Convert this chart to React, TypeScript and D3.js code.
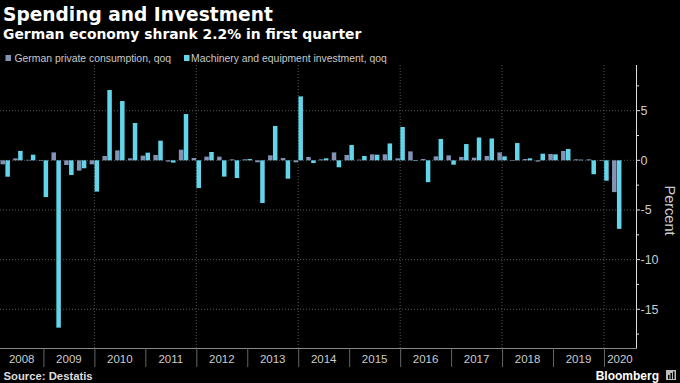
import React from "react";
import * as d3 from "d3";

const title = "Spending and Investment";
const subtitle = "German economy shrank 2.2% in first quarter";
const seriesNames = ["German private consumption, qoq", "Machinery and equipment investment, qoq"];
const years = [2008, 2009, 2010, 2011, 2012, 2013, 2014, 2015, 2016, 2017, 2018, 2019, 2020];
const consumption = [
  -0.4, 0.2, 0.05, -0.05, 0.8, -0.47, -1.04, -0.4, 0.44, 1.0, 0.2, 0.47, 0.54, -0.13, 1.07, 0.23,
  0.37, 0.37, 0.1, 0.1, -0.2, 0.5, 0.23, -0.2, 0.34, 0.1, 0.8, 0.54, 0.07, 0.6, 0.6, 0.2,
  0.9, 0.13, 0.4, 0.5, 0.34, 0.27, 0.44, 0.8, 0.03, 0.13, -0.13, 0.64, 0.94, 0.1, 0.1, -0.03,
  -3.2,
];
const investment = [
  -1.65, 0.95, 0.57, -3.7, -16.85, -1.48, -0.8, -3.15, 7.08, 5.97, 3.76, 0.77, 1.98, -0.23, 4.66, -2.79,
  0.84, -1.64, -1.78, 0.13, -4.3, 3.46, -1.85, 6.44, -0.27, 0.2, -0.7, 1.54, 0.44, 0.57, 1.7, 3.36,
  0.03, -2.2, 2.15, -0.44, 1.64, 2.3, 2.2, 0.4, 1.74, 0.2, 0.67, 0.6, 1.14, 0.07, -1.4, -2.05,
  -6.9,
];
const majorTicks = [5, 0, -5, -10, -15];
const minorTicks = [7.5, 2.5, -2.5, -7.5, -12.5, -17.5];
const gridYears = [2010, 2012, 2014, 2016, 2018, 2020];
const source = "Source: Destatis";

const colors = ["#8393b4", "#62d5ea"];

export default function App() {
  const W = 680, H = 383;
  const plotL = 0, plotR = 636, plotT = 65, plotB = 348;
  const x = d3.scaleLinear().domain([2008.148, 2020.628]).range([plotL, plotR]);
  const y = d3.scaleLinear().domain([-18.9, 9.6]).range([plotB, plotT]);
  const sub = d3.scaleBand<string>().domain(["c", "i"]).range([-4.7, 4.7]).paddingInner(0.08);
  const quarterX = (i: number) => x(years[0] + Math.floor(i / 4) + ((i % 4) + 1) / 4);
  const font = "'Liberation Sans', Arial, sans-serif";
  const bar = (v: number, i: number, key: string, color: string) => {
    const cx = quarterX(i);
    const y0 = y(0), y1 = y(v);
    return (
      <rect key={key + i} x={cx + (sub(key) as number)} width={sub.bandwidth()}
        y={Math.min(y0, y1)} height={Math.max(0.6, Math.abs(y1 - y0))} fill={color} />
    );
  };
  return (
    <svg width={W} height={H} style={{ position: "absolute", left: 0, top: 0, background: "#000" }}>
      <rect width={W} height={H} fill="#000" />
      <text x={3} y={21} fill="#fff" fontFamily="'DejaVu Sans', sans-serif" fontWeight="bold" fontSize={18.6}>{title}</text>
      <text x={3} y={38.5} fill="#fff" fontFamily="'DejaVu Sans', sans-serif" fontWeight="bold" fontSize={13.9}>{subtitle}</text>
      {/* legend */}
      <rect x={5.5} y={55} width={5.5} height={6} fill={colors[0]} />
      <text x={14.5} y={61.5} fill="#c8c8c8" fontFamily={font} fontSize={10.4}>{seriesNames[0]}</text>
      <rect x={184} y={55} width={5.5} height={6} fill={colors[1]} />
      <text x={191} y={61.5} fill="#c8c8c8" fontFamily={font} fontSize={10.4}>{seriesNames[1]}</text>
      {/* gridlines */}
      {majorTicks.map((t) => (
        <line key={"h" + t} x1={plotL} x2={plotR} y1={y(t)} y2={y(t)} stroke="#555" strokeWidth={1} strokeDasharray="1,2" />
      ))}
      {gridYears.map((yr) => (
        <line key={"v" + yr} x1={x(yr)} x2={x(yr)} y1={plotT} y2={plotB} stroke="#555" strokeWidth={1} strokeDasharray="1,2" />
      ))}
      {/* bars */}
      {consumption.map((v, i) => bar(v, i, "c", colors[0]))}
      {investment.map((v, i) => bar(v, i, "i", colors[1]))}
      {/* y axis */}
      <line x1={plotR + 0.5} x2={plotR + 0.5} y1={plotT} y2={plotB} stroke="#ddd" strokeWidth={1} />
      {majorTicks.map((t) => (
        <g key={"t" + t}>
          <line x1={plotR} x2={plotR + 4} y1={y(t)} y2={y(t)} stroke="#ddd" />
          <text x={plotR + 4.5} y={y(t)} dy="0.36em" fill="#ccc" fontFamily={font} fontSize={12.5}>{t}</text>
        </g>
      ))}
      {minorTicks.map((t) => (
        <line key={"m" + t} x1={plotR} x2={plotR + 3} y1={y(t)} y2={y(t)} stroke="#ddd" />
      ))}
      <text transform={`translate(665,210.5) rotate(90)`} textAnchor="middle" fill="#ccc" fontFamily={font} fontSize={14.5}>Percent</text>
      {/* x axis */}
      <line x1={plotL} x2={plotR + 1} y1={plotB + 0.5} y2={plotB + 0.5} stroke="#888" />
      {years.map((yr) => {
        const a = Math.max(plotL, x(yr));
        const b = Math.min(plotR, x(yr + 1));
        return (
          <g key={"y" + yr}>
            {yr > years[0] && <line x1={x(yr) + 0.5} x2={x(yr) + 0.5} y1={plotB} y2={367} stroke="#666" />}
            <text x={(a + b) / 2} y={363} textAnchor="middle" fill="#ccc" fontFamily={font} fontSize={11.5}>{yr}</text>
          </g>
        );
      })}
      <text x={3.5} y={380} fill="#ddd" fontFamily={font} fontWeight="bold" fontSize={11.3}>{source}</text>
      <text x={659} y={380} textAnchor="end" fill="#fff" fontFamily={font} fontWeight="bold" fontSize={12}>Bloomberg</text>
      <g transform="translate(666,370)">
        <rect width={10} height={10} fill="#bbb" />
        <rect x={2} y={5} width={1.5} height={4} fill="#000" />
        <rect x={4.5} y={3} width={1.5} height={6} fill="#000" />
        <rect x={7} y={1.5} width={1.5} height={7.5} fill="#000" />
      </g>
    </svg>
  );
}
